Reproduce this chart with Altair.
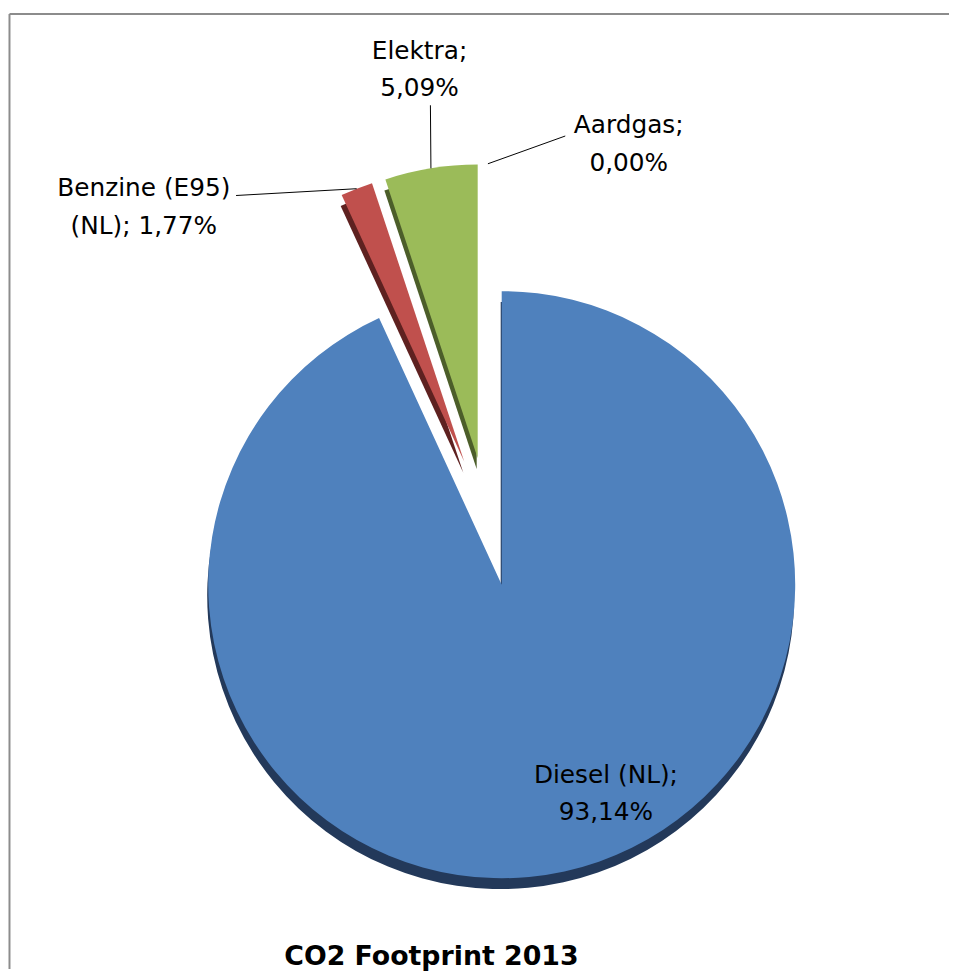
import altair as alt
import pandas as pd

# ---- data ----
categories = ["Diesel (NL)", "Benzine (E95) (NL)", "Elektra", "Aardgas"]
values = [93.14, 1.77, 5.09, 0.00]
labels = ["Diesel (NL);\n93,14%", "Benzine (E95)\n(NL); 1,77%", "Elektra;\n5,09%", "Aardgas;\n0,00%"]

# ---- style / layout ----
colors = ["#4F81BD", "#C0504D", "#9BBB59", "#8064A2"]
dark_colors = ["#23395a", "#5e2120", "#4c5e2a", "#3f3151"]
CX, CY = 484, 514          # pie centre (px)
EXPLODE = 65               # explode distance (px)
RADIUS = 296
label_x = [603, 137, 415, 626]
label_y = [777, 186, 47, 122]
has_leader = [False, True, True, True]
leader_x = [0, 230, 426, 562]
leader_y = [0, 185, 94, 125]
W, H = 949, 965
FONT = "DejaVu Sans"

df = pd.DataFrame({
    "category": categories,
    "value": values,
    "label": labels,
    "order": list(range(len(categories))),
    "tx": label_x,
    "ty": label_y,
    "lead": has_leader,
    "lx": leader_x,
    "ly": leader_y,
})

base = (
    alt.Chart(df)
    .transform_window(cum="sum(value)", sort=[alt.SortField("order")], frame=[None, 0])
    .transform_joinaggregate(total="sum(value)")
    .transform_calculate(
        t0="2*PI*(datum.cum-datum.value)/datum.total",
        t1="2*PI*datum.cum/datum.total",
    )
    .transform_calculate(mid="(datum.t0+datum.t1)/2")
    .transform_calculate(
        cx=f"{CX}+{EXPLODE}*sin(datum.mid)",
        cy=f"{CY}-{EXPLODE}*cos(datum.mid)",
    )
    .transform_calculate(
        ox=f"datum.cx+{RADIUS}*sin(datum.mid)",
        oy=f"datum.cy-{RADIUS}*cos(datum.mid)",
    )
)

pos = dict(
    x=alt.X("cx:Q", scale=None, axis=None),
    y=alt.Y("cy:Q", scale=None, axis=None),
    theta=alt.Theta("t0:Q", scale=None, stack=None),
    theta2=alt.Theta2("t1:Q"),
)

depth = base.mark_arc(radius=RADIUS, yOffset=11, xOffset=-1).encode(
    color=alt.Color("category:N", scale=alt.Scale(domain=categories, range=dark_colors), legend=None),
    **pos,
)

slices = base.mark_arc(radius=RADIUS).encode(
    color=alt.Color("category:N", scale=alt.Scale(domain=categories, range=colors), legend=None),
    **pos,
)

leaders = base.transform_filter("datum.lead").mark_rule(color="black", strokeWidth=1).encode(
    x=alt.X("ox:Q", scale=None, axis=None),
    y=alt.Y("oy:Q", scale=None, axis=None),
    x2=alt.X2("lx:Q"),
    y2=alt.Y2("ly:Q"),
)

texts = base.mark_text(
    font=FONT, fontSize=25, lineBreak="\n", lineHeight=38,
    align="center", baseline="alphabetic", color="black",
).encode(
    x=alt.X("tx:Q", scale=None, axis=None),
    y=alt.Y("ty:Q", scale=None, axis=None),
    text="label:N",
)

title = alt.Chart(pd.DataFrame({"t": ["CO2 Footprint 2013"]})).mark_text(
    font=FONT, fontSize=27, fontWeight="bold", align="center", baseline="alphabetic", color="black"
).encode(x=alt.value(427), y=alt.value(961), text="t:N")

border_top = alt.Chart(pd.DataFrame({"d": [0]})).mark_rule(color="#8c8c8c", strokeWidth=2).encode(
    x=alt.value(1.5), x2=alt.value(W), y=alt.value(2)
)
border_left = alt.Chart(pd.DataFrame({"d": [0]})).mark_rule(color="#8c8c8c", strokeWidth=2).encode(
    x=alt.value(1.5), y=alt.value(2), y2=alt.value(H)
)

chart = (
    alt.layer(border_top, border_left, depth, slices, leaders, texts, title)
    .resolve_scale(color="independent")
    .properties(width=W, height=H, padding=0, autosize="none")
    .configure_view(stroke=None)
)

chart.save("out.html", embed_options={"renderer": "svg", "actions": False})
